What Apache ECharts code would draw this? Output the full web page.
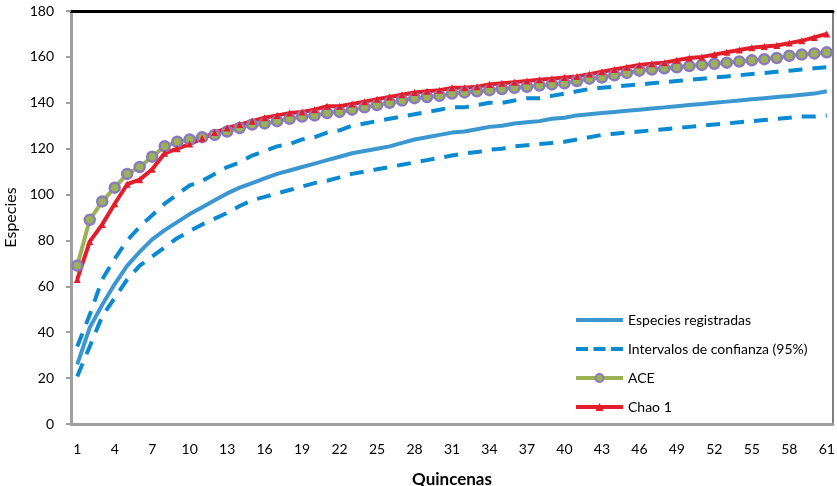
<!DOCTYPE html>
<html>
<head>
<meta charset="utf-8">
<script src="https://cdn.jsdelivr.net/npm/echarts@6/dist/echarts.min.js"></script>
<style>html,body{margin:0;padding:0;background:#fff}#c{width:837px;height:486px}</style>
</head>
<body>
<div id="c"></div>
<script>
var categories = [];
for (var i = 1; i <= 61; i++) categories.push(String(i));

var especies = [26,42,52,61,69,75,80.5,84.5,88,91.5,94.5,97.5,100.5,103,105,107,109,110.5,112,113.5,115,116.5,118,119,120,121,122.5,124,125,126,127,127.5,128.5,129.5,130,131,131.5,132,133,133.5,134.5,135,135.5,136,136.5,137,137.5,138,138.5,139,139.5,140,140.5,141,141.5,142,142.5,143,143.5,144,145];
var icSup = [33.8,47.6,63,72,80,86,91,96,100,104,106,109,112,114,117,119,121,122,124,125,127,128,130,131,132,133,134,135,136,137,138,138,139,140,140,141,142,142,143,144,145,146,146.5,147,147.5,148,148.5,149,149.5,150,150.5,151,151.5,152,152.5,153,153.5,154,154.5,155,155.5];
var icInf = [20.7,33.8,47,55,63,69,73,77,81,84,87,89.5,92,95,97.5,99,100.5,102,103.5,105,106,107.5,109,110,111,112,113,114,115,116,117,118,118.5,119.5,120,121,121.5,122,122.5,123,124,125,126,126.5,127,127.5,128,128.5,129,129.5,130,130.5,131,131.5,132,132.5,133,133.5,134,134,134.5];
var ace = [69,89,97,103,109,112,116.5,121,123,124,125,126,127.5,129,130.5,131,132,133,134,134.5,135.5,136,137,138,139,140,141,142,142.5,143,144,144.5,145,145.5,146,146.5,147,147.5,148,148.5,149.5,150.5,151,152,153,154,154.5,155,155.5,156,156.5,157,157.5,158,158.5,159,159.5,160.5,161,161.5,162];
var chao1 = [63,79.5,87,96,104.5,106.5,111,118,120,122,124.5,127,129,130.5,132,133.5,134.5,135.5,136,137,138.5,138.5,139.5,140.5,141.5,142.5,143.5,144.5,145,145.5,146.5,146.5,147,148,148.5,149,149.5,150,150.5,151,151.5,152.5,153.5,154.5,155.5,156.5,157,157.5,158.5,159.5,160,161,162,163,164,164.5,165,166,167,168.5,170];

var FONT = 'Lato, "Open Sans", sans-serif';
var chart = echarts.init(document.getElementById('c'), null, {renderer: 'canvas'});
var icName = 'Intervalos de confianza (95%)';
var dashStyle = {color: '#0B8AD2', width: 4, type: [14, 10], cap: 'butt'};

chart.setOption({
  animation: false,
  textStyle: {fontFamily: FONT},
  grid: {left: 71, right: 4, top: 11, bottom: 62, outerBoundsMode: 'none', containLabel: false,
         show: true, borderColor: '#000', borderWidth: 1, backgroundColor: 'transparent'},
  legend: {
    orient: 'vertical', left: 569, top: 308, itemGap: 15, itemWidth: 47, itemHeight: 10,
    textStyle: {fontFamily: FONT, fontSize: 14, color: '#000'},
    lineStyle: {width: 4},
    data: [
      {name: 'Especies registradas', icon: 'path://M0,0 H47 V4 H0 Z'},
      {name: icName, icon: 'path://M0,0 H12 V4 H0 Z M17.5,0 H29.5 V4 H17.5 Z M35,0 H47 V4 H35 Z'},
      {name: 'ACE'},
      {name: 'Chao 1'}
    ]
  },
  xAxis: [{
    type: 'category', data: categories, boundaryGap: true,
    name: 'Quincenas', nameLocation: 'middle', nameGap: 47,
    nameTextStyle: {fontFamily: FONT, fontSize: 17, fontWeight: 'bold', color: '#000'},
    axisLine: {lineStyle: {color: '#A0A0A0', width: 3}},
    axisTick: {interval: 2, length: 5, lineStyle: {color: '#A0A0A0', width: 2}},
    axisLabel: {interval: 2, margin: 18, fontFamily: FONT, fontSize: 14, color: '#000'}
  }, {
    type: 'category', data: categories, position: 'top', boundaryGap: true,
    axisLine: {lineStyle: {color: '#000', width: 3}},
    axisTick: {show: false}, axisLabel: {show: false}
  }],
  yAxis: {
    type: 'value', min: 0, max: 180, interval: 20,
    name: 'Especies', nameLocation: 'middle', nameGap: 50, nameRotate: 90,
    nameTextStyle: {fontFamily: FONT, fontSize: 16, color: '#000'},
    axisLine: {show: true, lineStyle: {color: '#A0A0A0', width: 3}},
    axisTick: {show: true, length: 5, lineStyle: {color: '#A0A0A0', width: 2}},
    axisLabel: {margin: 17, fontFamily: FONT, fontSize: 14, color: '#000'},
    splitLine: {show: false}
  },
  series: [
    {name: 'Especies registradas', type: 'line', data: especies, symbol: 'none',
     lineStyle: {color: '#3C96CF', width: 4}, itemStyle: {color: '#3C96CF'}},
    {name: icName, type: 'line', data: icSup, symbol: 'none',
     lineStyle: dashStyle, itemStyle: {color: '#0B8AD2'}},
    {name: icName, type: 'line', data: icInf, symbol: 'none',
     lineStyle: dashStyle, itemStyle: {color: '#0B8AD2'}},
    {name: 'ACE', type: 'line', data: ace, symbol: 'circle', symbolSize: 10, showSymbol: true, showAllSymbol: true,
     lineStyle: {color: '#9BB254', width: 4},
     itemStyle: {color: '#9BB254', borderColor: '#8B79BF', borderWidth: 2.5}},
    {name: 'Chao 1', type: 'line', data: chao1, symbol: 'triangle', symbolSize: 7, showSymbol: true, showAllSymbol: true,
     lineStyle: {color: '#E31D2A', width: 4},
     itemStyle: {color: '#E31D2A'}}
  ]
});
</script>
</body>
</html>
